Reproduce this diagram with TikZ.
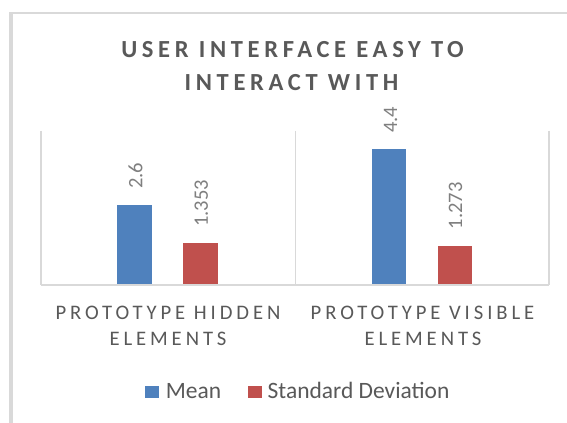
\documentclass[tikz,border=0pt]{standalone}
\usepackage{fontspec}
\setmainfont{Carlito}
\newfontfamily\titlefont[LetterSpace=19]{Carlito}
\newfontfamily\catfont[LetterSpace=19]{Carlito}
\definecolor{gridgray}{HTML}{D9D9D9}
\definecolor{txtgray}{HTML}{595959}
\definecolor{valgray}{HTML}{7F7F7F}
\definecolor{barblue}{HTML}{4F81BD}
\definecolor{barred}{HTML}{C0504D}
\tikzset{
  titletext/.style={inner sep=0, anchor=base, text=txtgray, font=\titlefont\fontsize{18.4}{20}\selectfont\bfseries},
  cattext/.style={inner sep=0, anchor=base, text=txtgray, font=\catfont\fontsize{15.5}{18}\selectfont},
  valtext/.style={inner sep=0, anchor=west, rotate=90, text=valgray, font=\fontsize{15.4}{18}\selectfont},
  legtext/.style={inner sep=0, anchor=base west, text=txtgray, font=\fontsize{17.6}{20}\selectfont},
  grid/.style={draw=gridgray, line width=1.1pt},
  meanbar/.style={fill=barblue},
  sdbar/.style={fill=barred}
}
\begin{document}
\begin{tikzpicture}[x=0.75pt,y=-0.75pt]
\useasboundingbox (0,0) rectangle (567,423);
\fill[white] (0,0) rectangle (567,423);
% outer frame (clipped at right and bottom)
\draw[draw=gridgray, line width=2.6pt] (11,12.5) -- (11,423);
\draw[draw=gridgray, line width=1.6pt] (10,13) -- (567,13);
% title
\node[titletext] (t1) at (292.5,57.5) {USER INTERFACE EASY TO};
\node[titletext] (t2) at (291.5,90.8) {INTERACT WITH};
% plot grid
\coordinate (a0) at (40.9,131);
\coordinate (a1) at (295.4,131);
\coordinate (a2) at (548.9,131);
\coordinate (b0) at (40.9,285);
\coordinate (b1) at (295.4,285);
\coordinate (b2) at (548.9,285);
\draw[grid] (a0) -- (b0);
\draw[grid] (a1) -- (b1);
\draw[grid] (a2) -- (b2);
% bars
\path[meanbar] (117.4,285) rectangle (151.8,204.9);
\path[sdbar] (183.1,285) rectangle (217.6,243.3);
\path[meanbar] (371.8,285) rectangle (406.3,149.5);
\path[sdbar] (437.5,285) rectangle (471.9,245.8);
\draw[grid] (b0) -- (b2);
% value labels
\node[valtext] (v1) at (135.5,189) {2.6};
\node[valtext] (v2) at (201.2,227) {1.353};
\node[valtext] (v3) at (390.5,133) {4.4};
\node[valtext] (v4) at (455.5,229.5) {1.273};
% categories
\node[cattext] (c1a) at (168,320) {PROTOTYPE HIDDEN};
\node[cattext] (c1b) at (168,346) {ELEMENTS};
\node[cattext] (c2a) at (422.5,320) {PROTOTYPE VISIBLE};
\node[cattext] (c2b) at (423,346) {ELEMENTS};
% legend
\fill[barblue] (145,385.7) rectangle (158.8,398.3);
\node[legtext] (l1) at (165.5,398.2) {Mean};
\fill[barred] (248.3,385.7) rectangle (261.8,398.3);
\node[legtext] (l2) at (267.4,398.2) {Standard Deviation};
\end{tikzpicture}
\end{document}
